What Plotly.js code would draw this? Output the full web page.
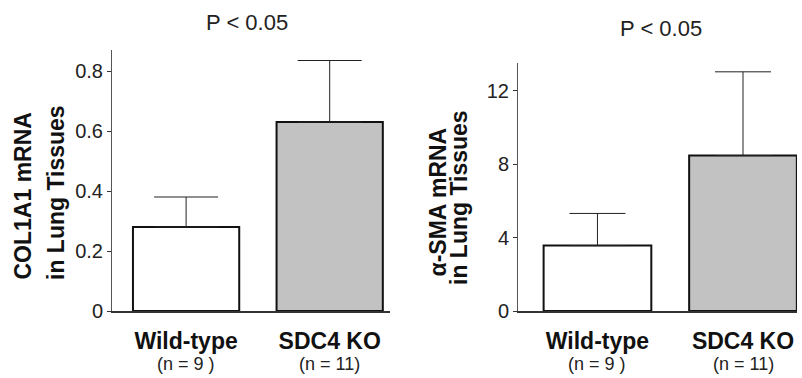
<!DOCTYPE html>
<html>
<head>
<meta charset="utf-8">
<script src="https://cdn.plot.ly/plotly-3.0.1.min.js"></script>
<style>html,body{margin:0;padding:0;background:#fff;}#chart{width:802px;height:378px;}</style>
</head>
<body>
<div id="chart"></div>
<script>
// Data
const groups = ["Wild-type", "SDC4 KO"];
const groupN = ["(n = 9 )", "(n = 11)"];
const col1a1Mean = [0.28, 0.63];
const col1a1Err = [0.10, 0.205];
const asmaMean = [3.56, 8.46];
const asmaErr = [1.75, 4.56];
const pLeft = "P < 0.05";
const pRight = "P < 0.05";
const yTitleLeft = ["COL1A1 mRNA", "in Lung Tissues"];
const yTitleRight = ["α-SMA mRNA", "in Lung Tissues"];
const leftTicks = [0, 0.2, 0.4, 0.6, 0.8];
const leftTickText = ["0", "0.2", "0.4", "0.6", "0.8"];
const rightTicks = [0, 4, 8, 12];
const rightTickText = ["0", "4", "8", "12"];

const W = 802, H = 378;
const px = x => x / W;
const py = y => 1 - y / H;
const FONT = "Arial, 'Liberation Sans', sans-serif";
const fills = ["#ffffff", "#c2c2c2"];

function barTrace(vals, errs, xa, ya, capw) {
  return {
    type: "bar", x: groups, y: vals, xaxis: xa, yaxis: ya,
    width: 0.74,
    marker: {color: fills, line: {color: "#111", width: 2}},
    error_y: {type: "data", array: errs, arrayminus: groups.map(() => 0), symmetric: false,
              color: "#222", thickness: 1, width: capw},
    showlegend: false, hoverinfo: "none"
  };
}

const data = [
  barTrace(col1a1Mean, col1a1Err, "x", "y", 32),
  barTrace(asmaMean, asmaErr, "x2", "y2", 28)
];

const yDomBottom = py(311);
const xCommon = {
  type: "category", showline: true, linecolor: "#333", linewidth: 1.5,
  ticks: "", showgrid: false, zeroline: false, fixedrange: true,
  tickfont: {family: FONT, size: 23, color: "#111", weight: "bold"},
  ticklabelstandoff: 9
};
const yCommon = {
  showline: true, linecolor: "#555", linewidth: 1, ticks: "outside", ticklen: 4,
  tickcolor: "#333", showgrid: false, zeroline: false, fixedrange: true,
  tickfont: {family: FONT, size: 20, color: "#222"}
};

function ann(text, x, y, size, bold, extra) {
  return Object.assign({text: text, x: x, y: y, xref: "paper", yref: "paper", showarrow: false,
    xanchor: "center", yanchor: "middle",
    font: {family: FONT, size: size, color: bold ? "#111" : "#222", weight: bold ? "bold" : "normal"}}, extra || {});
}

const layout = {
  width: W, height: H,
  margin: {l: 0, r: 0, t: 0, b: 0},
  paper_bgcolor: "#fff", plot_bgcolor: "#fff",
  bargap: 0,
  xaxis: Object.assign({}, xCommon, {domain: [px(112), px(390)], range: [-0.516, 1.42], anchor: "y"}),
  yaxis: Object.assign({}, yCommon, {domain: [yDomBottom, py(50)], range: [0, 0.87], anchor: "x",
    tickvals: leftTicks, ticktext: leftTickText}),
  xaxis2: Object.assign({}, xCommon, {domain: [px(518), px(797)], range: [-0.546, 1.371], anchor: "y2"}),
  yaxis2: Object.assign({}, yCommon, {domain: [yDomBottom, py(63)], range: [0, 13.5], anchor: "x2",
    tickvals: rightTicks, ticktext: rightTickText}),
  annotations: [
    ann(pLeft, px(247), py(23), 22, false),
    ann(pRight, px(661), py(28), 22, false),
    ann(yTitleLeft[0], px(22.5), py(196), 23, true, {textangle: -90}),
    ann(yTitleLeft[1], px(56), py(192), 23, true, {textangle: -90}),
    ann(yTitleRight[0], px(437.5), py(202), 23, true, {textangle: -90}),
    ann(yTitleRight[1], px(459), py(198), 23, true, {textangle: -90}),
    ann(groupN[0], 0, py(364), 18, false, {xref: "x"}),
    ann(groupN[1], 1, py(364), 18, false, {xref: "x"}),
    ann(groupN[0], 0, py(364), 18, false, {xref: "x2"}),
    ann(groupN[1], 1, py(364), 18, false, {xref: "x2"})
  ]
};

Plotly.newPlot("chart", data, layout, {staticPlot: true, displayModeBar: false});
</script>
</body>
</html>
